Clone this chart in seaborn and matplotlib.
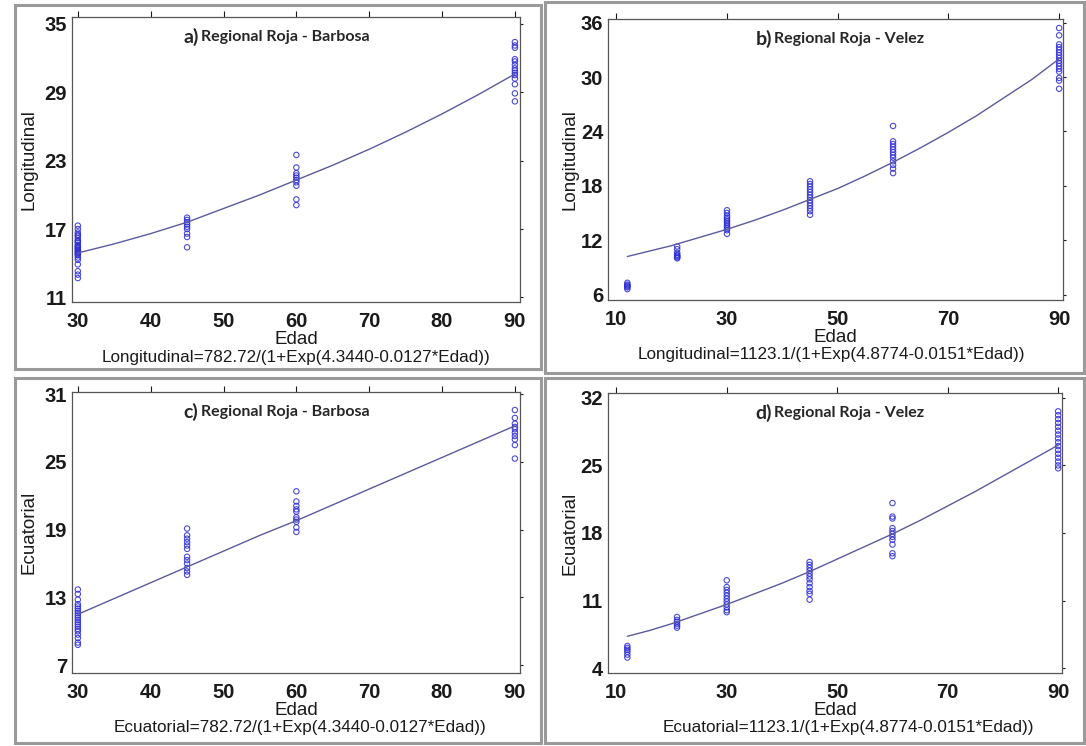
import numpy as np
import pandas as pd
import matplotlib
matplotlib.use("Agg")
import matplotlib.pyplot as plt
import seaborn as sns
from matplotlib.patches import Rectangle

# ---- datos ----
# a) Longitudinal - Barbosa
a_edades = [30, 45, 60, 90]
a_valores = [
    [17.3, 17.0, 16.7, 16.5, 16.4, 16.2, 16.0, 15.9, 15.8, 15.6, 15.5, 15.4, 15.3, 15.2,
     15.1, 15.0, 14.9, 14.8, 14.7, 14.5, 14.3, 13.9, 13.3, 13.0, 12.7],
    [18.0, 17.8, 17.6, 17.4, 17.2, 17.0, 16.6, 16.3, 15.4],
    [23.5, 22.4, 21.9, 21.7, 21.5, 21.3, 21.1, 20.8, 19.6, 19.1],
    [33.4, 33.1, 32.9, 31.9, 31.7, 31.4, 31.1, 30.9, 30.7, 30.5, 30.2, 29.7, 28.9, 28.2],
]
a_curva_x = [30, 35, 40, 45, 50, 55, 60, 65, 70, 75, 80, 85, 90]
a_curva_y = [14.9, 15.7, 16.6, 17.6, 18.8, 20.0, 21.3, 22.6, 24.0, 25.5, 27.1, 28.8, 30.6]

# b) Longitudinal - Velez
b_edades = [12, 21, 30, 45, 60, 90]
b_valores = [
    [7.3, 7.1, 7.0, 6.9, 6.8, 6.6],
    [11.3, 11.0, 10.6, 10.4, 10.3, 10.2, 10.1, 10.0],
    [15.3, 15.0, 14.7, 14.5, 14.3, 14.1, 13.9, 13.7, 13.5, 13.3, 13.1, 12.7],
    [18.5, 18.2, 17.9, 17.6, 17.3, 17.0, 16.7, 16.4, 16.1, 15.8, 15.5, 15.2, 14.8],
    [24.6, 22.9, 22.6, 22.3, 22.0, 21.7, 21.4, 21.1, 20.7, 20.3, 19.9, 19.4],
    [35.4, 34.6, 33.6, 33.3, 33.0, 32.7, 32.4, 32.1, 31.8, 31.5, 31.2, 30.9, 30.6, 29.9,
     29.6, 28.7],
]
b_curva_x = [12, 16, 20, 25, 30, 35, 40, 45, 50, 55, 60, 65, 70, 75, 80, 85, 90]
b_curva_y = [10.2, 10.8, 11.4, 12.3, 13.2, 14.2, 15.3, 16.5, 17.7, 19.1, 20.6, 22.2,
             23.9, 25.7, 27.7, 29.7, 32.0]

# c) Ecuatorial - Barbosa
c_edades = [30, 45, 60, 90]
c_valores = [
    [13.7, 13.3, 12.8, 12.4, 12.2, 12.0, 11.8, 11.6, 11.4, 11.2, 11.0, 10.8, 10.6, 10.4,
     10.2, 10.0, 9.7, 9.4, 9.0, 8.8],
    [19.1, 18.5, 18.2, 17.9, 17.6, 17.3, 16.6, 16.3, 16.0, 15.6, 15.3, 15.0],
    [22.4, 21.5, 21.1, 20.8, 20.6, 20.1, 19.9, 19.7, 19.2, 18.8],
    [29.6, 28.9, 28.4, 28.1, 27.9, 27.6, 27.3, 27.0, 26.5, 25.3],
]
c_curva_x = [30, 35, 40, 45, 50, 55, 60, 65, 70, 75, 80, 85, 90]
c_curva_y = [11.5, 12.9, 14.3, 15.7, 17.1, 18.5, 19.8, 21.2, 22.6, 24.0, 25.4, 26.8, 28.2]

# d) Ecuatorial - Velez
d_edades = [12, 21, 30, 45, 60, 90]
d_valores = [
    [6.3, 6.1, 5.9, 5.7, 5.4, 5.1],
    [9.3, 9.0, 8.8, 8.6, 8.4, 8.2],
    [13.1, 12.4, 12.1, 11.8, 11.5, 11.2, 10.9, 10.6, 10.3, 10.0, 9.8],
    [15.0, 14.7, 14.4, 14.1, 13.8, 13.5, 13.2, 12.8, 12.4, 12.0, 11.7, 11.1],
    [21.1, 19.7, 19.5, 18.5, 18.2, 17.9, 17.6, 17.3, 16.8, 15.9, 15.6],
    [30.6, 30.2, 29.8, 29.4, 29.0, 28.6, 28.2, 27.8, 27.4, 27.0, 26.6, 26.2, 25.8, 25.4,
     25.0, 24.7],
]
d_curva_x = [12, 16, 20, 25, 30, 35, 40, 45, 50, 55, 60, 65, 70, 75, 80, 85, 90]
d_curva_y = [7.3, 7.9, 8.6, 9.6, 10.6, 11.7, 12.8, 14.0, 15.3, 16.6, 17.9, 19.3,
             20.8, 22.3, 23.9, 25.5, 27.1]

W, H = 1086, 746


def armar_df(edades, valores):
    filas = []
    for e, vals in zip(edades, valores):
        for v in vals:
            filas.append({"Edad": e, "valor": v})
    return pd.DataFrame(filas)


def panel(fig, caja, edades, valores, cx, cy, ylabel, letra, titulo, ecuacion,
          xlim, ylim, xticks, yticks, tit_x, ecu_x, ylab_x):
    left, top, right, bottom = caja
    ax = fig.add_axes([left / W, 1 - bottom / H, (right - left) / W, (bottom - top) / H])
    df = armar_df(edades, valores)
    curva = pd.DataFrame({"Edad": cx, "valor": cy})
    sns.lineplot(data=curva, x="Edad", y="valor", ax=ax, color="#5a5a9e", linewidth=1.0)
    sns.scatterplot(data=df, x="Edad", y="valor", ax=ax, marker="o", s=15,
                    facecolors="none", edgecolor="#2b2bd6", linewidth=0.8, alpha=0.85)
    ax.set_xlim(*xlim)
    ax.set_ylim(*ylim)
    ax.set_xticks(xticks)
    ax.set_yticks(yticks)
    ax.tick_params(direction="out", length=4, width=0.8, top=True, right=True,
                   labeltop=False, labelright=False, labelsize=14.5, colors="#1a1a1a")
    ax.tick_params(axis="x", pad=3)
    ax.tick_params(axis="y", length=2.5, pad=1)
    for lab in ax.get_xticklabels() + ax.get_yticklabels():
        lab.set_fontweight("bold")
    for sp in ax.spines.values():
        sp.set_color("#555555")
        sp.set_linewidth(0.9)
    ax.set_xlabel("Edad", fontsize=13.5, labelpad=0, color="#1a1a1a")
    ax.set_ylabel(ylabel, fontsize=13.5, color="#1a1a1a")
    ax.yaxis.set_label_coords(ylab_x, 0.5)
    # titulo: letra un poco mayor que el texto
    ax.text(tit_x, 0.93, letra, transform=ax.transAxes, ha="right", va="center",
            fontsize=14, fontweight="bold", family=["Lato", "DejaVu Sans"])
    ax.text(tit_x + 0.005, 0.93, titulo, transform=ax.transAxes, ha="left", va="center",
            fontsize=11.5, fontweight="bold", family=["Lato", "DejaVu Sans"])
    ax.text(ecu_x, -0.195, ecuacion, transform=ax.transAxes, ha="center", va="center",
            fontsize=12.3, color="#1a1a1a")
    return ax


sns.set_theme(style="white")
plt.rcParams["font.family"] = ["Liberation Sans", "DejaVu Sans"]

fig = plt.figure(figsize=(W / 100, H / 100), dpi=100)

# marcos de cada figura
for (x0, y0, x1, y1) in [(15, 5, 541, 369), (545, 2, 1084, 373),
                         (15, 378, 541, 743), (545, 378, 1084, 743)]:
    fig.patches.append(Rectangle((x0 / W, 1 - y1 / H), (x1 - x0) / W, (y1 - y0) / H,
                                 transform=fig.transFigure, fill=False,
                                 edgecolor="#9a9a9a", linewidth=2.2))

panel(fig, (72, 17, 520, 302), a_edades, a_valores, a_curva_x, a_curva_y,
      "Longitudinal", "a)", "Regional Roja - Barbosa",
      "Longitudinal=782.72/(1+Exp(4.3440-0.0127*Edad))",
      (29.2, 90.7), (10.6, 35.6), [30, 40, 50, 60, 70, 80, 90], [11, 17, 23, 29, 35],
      0.283, 0.50, -0.077)

panel(fig, (608, 19, 1063, 300), b_edades, b_valores, b_curva_x, b_curva_y,
      "Longitudinal", "b)", "Regional Roja - Velez",
      "Longitudinal=1123.1/(1+Exp(4.8774-0.0151*Edad))",
      (8.5, 90.7), (5.4, 36.4), [10, 30, 50, 70, 90], [6, 12, 18, 24, 30, 36],
      0.36, 0.49, -0.064)

panel(fig, (72, 392, 520, 673), c_edades, c_valores, c_curva_x, c_curva_y,
      "Ecuatorial", "c)", "Regional Roja - Barbosa",
      "Ecuatorial=782.72/(1+Exp(4.3440-0.0127*Edad))",
      (29.2, 90.7), (6.3, 31.2), [30, 40, 50, 60, 70, 80, 90], [7, 13, 19, 25, 31],
      0.282, 0.51, -0.077)

panel(fig, (608, 393, 1062, 673), d_edades, d_valores, d_curva_x, d_curva_y,
      "Ecuatorial", "d)", "Regional Roja - Velez",
      "Ecuatorial=1123.1/(1+Exp(4.8774-0.0151*Edad))",
      (8.5, 90.7), (3.5, 32.5), [10, 30, 50, 70, 90], [4, 11, 18, 25, 32],
      0.36, 0.53, -0.064)

fig.savefig("out.png", dpi=100)
